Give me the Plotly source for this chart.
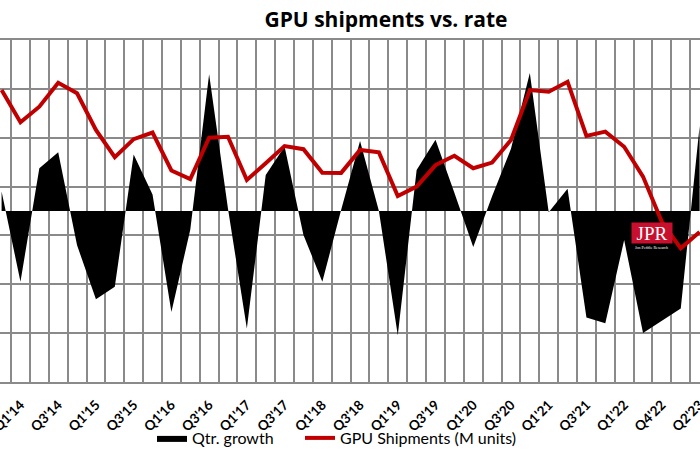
import plotly.graph_objects as go

# Quarter labels (the first entry sits at the cut-off left edge)
quarters = ["Q4'13",
            "Q1'14", "Q2'14", "Q3'14", "Q4'14",
            "Q1'15", "Q2'15", "Q3'15", "Q4'15",
            "Q1'16", "Q2'16", "Q3'16", "Q4'16",
            "Q1'17", "Q2'17", "Q3'17", "Q4'17",
            "Q1'18", "Q2'18", "Q3'18", "Q4'18",
            "Q1'19", "Q2'19", "Q3'19", "Q4'19",
            "Q1'20", "Q2'20", "Q3'20", "Q4'20",
            "Q1'21", "Q2'21", "Q3'21", "Q4'21",
            "Q1'22", "Q2'22", "Q4'22", "Q1'23", "Q2'23"]

# Quarter-to-quarter growth (%)
qtr_growth = [3.4,
              -12.4, 7.5, 10.3, -6.0,
              -15.5, -13.3, 9.9, 2.9,
              -17.7, -3.3, 24.0, 0.4,
              -20.6, 6.3, 11.3, -4.2,
              -12.4, 0.2, 12.3, 0.0,
              -21.8, 7.2, 12.5, 3.2,
              -6.3, 2.6, 10.9, 24.2,
              -0.2, 3.9, -18.7, -19.7,
              -5.1, -21.4, -19.3, -17.1, 14.9]

# GPU shipments (M units)
shipments = [119.5,
             106.3, 112.7, 122.5, 118.2,
             103.2, 92.0, 99.4, 102.1,
             86.6, 83.1, 100.0, 100.4,
             82.7, 89.5, 96.6, 95.3,
             85.7, 85.6, 95.0, 94.0,
             76.1, 80.0, 88.8, 92.6,
             87.5, 89.8, 99.1, 119.5,
             118.8, 122.9, 100.7, 102.5,
             96.3, 84.1, 65.5, 54.7, 61.4]

pos = list(range(len(quarters)))
label_pos = pos[1::2]
label_txt = quarters[1::2]

FONT = "Lato"
GRID = "#8a8a8a"

fig = go.Figure()
# growth area on the primary axis (carries the grid), shipments line on top
fig.add_trace(go.Scatter(
    x=pos, y=qtr_growth, name="Qtr. growth", yaxis="y", legend="legend",
    mode="lines", fill="tozeroy", fillcolor="black",
    line=dict(color="black", width=0),
))
fig.add_trace(go.Scatter(
    x=pos, y=shipments, name="GPU Shipments (M units)", yaxis="y2",
    legend="legend2",
    mode="lines", line=dict(color="#C00000", width=4),
))

legend_common = dict(orientation="h", xanchor="left", yanchor="middle",
                     y=(382-438)/342, bgcolor="rgba(0,0,0,0)",
                     font=dict(family=FONT, size=16, color="black"))

fig.update_layout(
    width=700, height=450,
    margin=dict(l=0, r=0, t=40, b=68, autoexpand=False),
    paper_bgcolor="white", plot_bgcolor="white",
    font=dict(family=FONT, color="black"),
    title=dict(text="<b>GPU shipments vs. rate</b>", x=386/700, xanchor="center",
               y=1-20/450, yanchor="middle", yref="container",
               font=dict(family="Open Sans", size=21, color="black")),
    xaxis=dict(
        range=[-0.085, 37.02], showgrid=False, zeroline=False,
        tickmode="array", tickvals=label_pos, ticktext=label_txt,
        tickangle=-45, ticks="", ticklabelstandoff=8, automargin=False,
        ticklabeloverflow="allow",
        tickfont=dict(family=FONT, size=13.5, color="black", weight="bold"),
        showline=True, mirror=True, linecolor=GRID, linewidth=1.5,
        minor=dict(tick0=0.5, dtick=1, showgrid=True, gridcolor=GRID,
                   gridwidth=1.5, ticks=""),
    ),
    yaxis=dict(range=[-30, 30], tick0=-30, dtick=60/7, showgrid=True,
               gridcolor=GRID, gridwidth=1.5, showticklabels=False,
               zeroline=False, ticks="", automargin=False),
    yaxis2=dict(range=[0, 140], overlaying="y", side="right", showgrid=False,
                showticklabels=False, zeroline=False, ticks="",
                automargin=False),
    legend=dict(x=152/700, **legend_common),
    legend2=dict(x=300/700, **legend_common),
    showlegend=True,
)

# JPR logo
fig.add_annotation(
    xref="paper", yref="paper", x=651.7/700, y=(382-233)/342,
    xanchor="center", yanchor="middle",
    text="JPR", showarrow=False, bgcolor="#C8102E", width=40, height=20,
    borderpad=0, font=dict(family="Liberation Serif", size=19, color="white"),
)
fig.add_annotation(
    xref="paper", yref="paper", x=651.7/700, y=(382-247.5)/342,
    xanchor="center", yanchor="middle",
    text="Jon Peddie Research", showarrow=False,
    font=dict(family="Liberation Serif", size=4, color="white"),
)

fig.write_html("out.html", config={"displayModeBar": False},
               post_script="document.body.style.margin='0';")
